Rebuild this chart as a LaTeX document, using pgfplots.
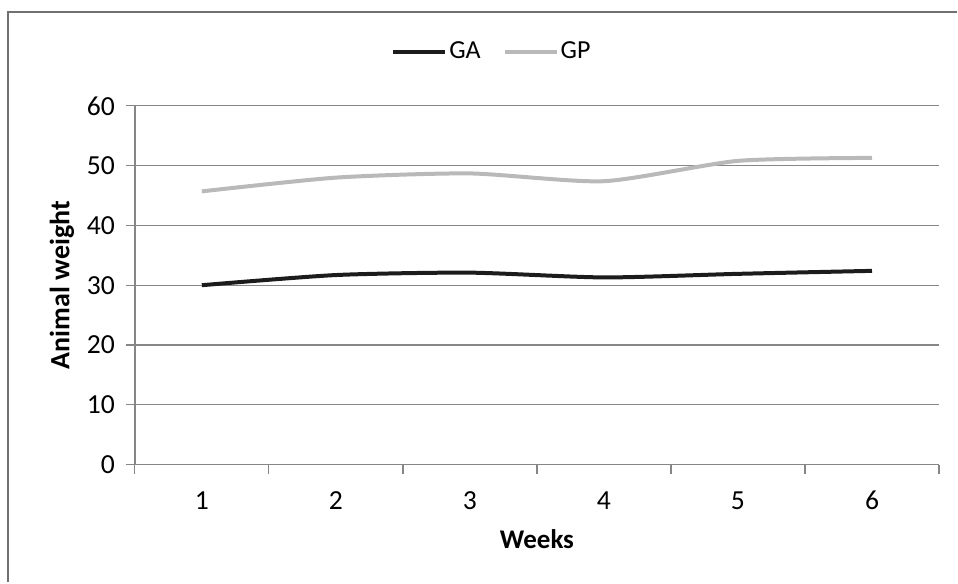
\documentclass[border=0pt]{standalone}
\usepackage{pgfplots}
\pgfplotsset{compat=1.18}
\usepackage{fontspec}
\setmainfont{Carlito}

\definecolor{gridgray}{HTML}{868686}
\definecolor{framegray}{HTML}{707070}
\definecolor{gacol}{HTML}{1C1C1C}
\definecolor{gpcol}{HTML}{B9B9B9}

\begin{document}
\fontsize{13}{15.6}\selectfont
\begin{tikzpicture}
\begin{axis}[
  scale only axis,
  width=402.5pt, height=179.5pt,
  xmin=0.5, xmax=6.5,
  ymin=0, ymax=60,
  xtick={1,2,3,4,5,6},
  major x tick style={draw=none},
  minor xtick={0.5,1.5,...,6.5},
  ytick={0,10,...,60},
  tick align=outside,
  major tick length=4.5pt,
  minor tick length=4.5pt,
  tick style={gridgray, line width=0.6pt},
  axis x line*=bottom,
  axis y line*=left,
  axis line style={gridgray, line width=0.8pt, -},
  ymajorgrids,
  grid style={gridgray, line width=0.6pt},
  /pgf/number format/assume math mode=true,
  ticklabel style={font=\fontsize{13.8}{16}\selectfont},
  yticklabel style={anchor=east, xshift=-1pt},
  xticklabel style={anchor=center, yshift=-13.5pt},
  xlabel={\textbf{Weeks}},
  ylabel={\textbf{Animal weight}},
  xlabel style={at={(axis description cs:0.5,0)}, anchor=center, yshift=-37.5pt,
    font=\fontsize{13.5}{16}\selectfont},
  ylabel style={at={(axis description cs:-0.0907,0.5)}, anchor=center,
    font=\fontsize{14}{16}\selectfont},
  legend style={at={(0.444,1.150)}, anchor=center, draw=none, fill=none,
    legend columns=-1, inner sep=0pt,
    /tikz/every even column/.append style={column sep=10pt},
    nodes={inner sep=1pt}},
  legend image code/.code={\draw[#1] (0pt,0pt) -- (26pt,0pt);},
]
\addplot[gacol, line width=2pt, smooth, tension=0.4] coordinates {
  (1,30.0) (2,31.7) (3,32.1) (4,31.3) (5,31.9) (6,32.4)};
\addlegendentry{GA}
\addplot[gpcol, line width=2pt, smooth, tension=0.4] coordinates {
  (1,45.7) (2,48.0) (3,48.7) (4,47.4) (5,50.8) (6,51.3)};
\addlegendentry{GP}
\end{axis}
\draw[framegray, line width=1pt]
  ([shift={(-63.5pt,-59pt)}]current axis.south west) --
  ([shift={(-63.5pt,226.5pt)}]current axis.south west) --
  ([shift={(411.5pt,226.5pt)}]current axis.south west);
\useasboundingbox ([shift={(-67.5pt,-59pt)}]current axis.south west) rectangle
  ([shift={(411.5pt,232.5pt)}]current axis.south west);
\end{tikzpicture}
\end{document}
